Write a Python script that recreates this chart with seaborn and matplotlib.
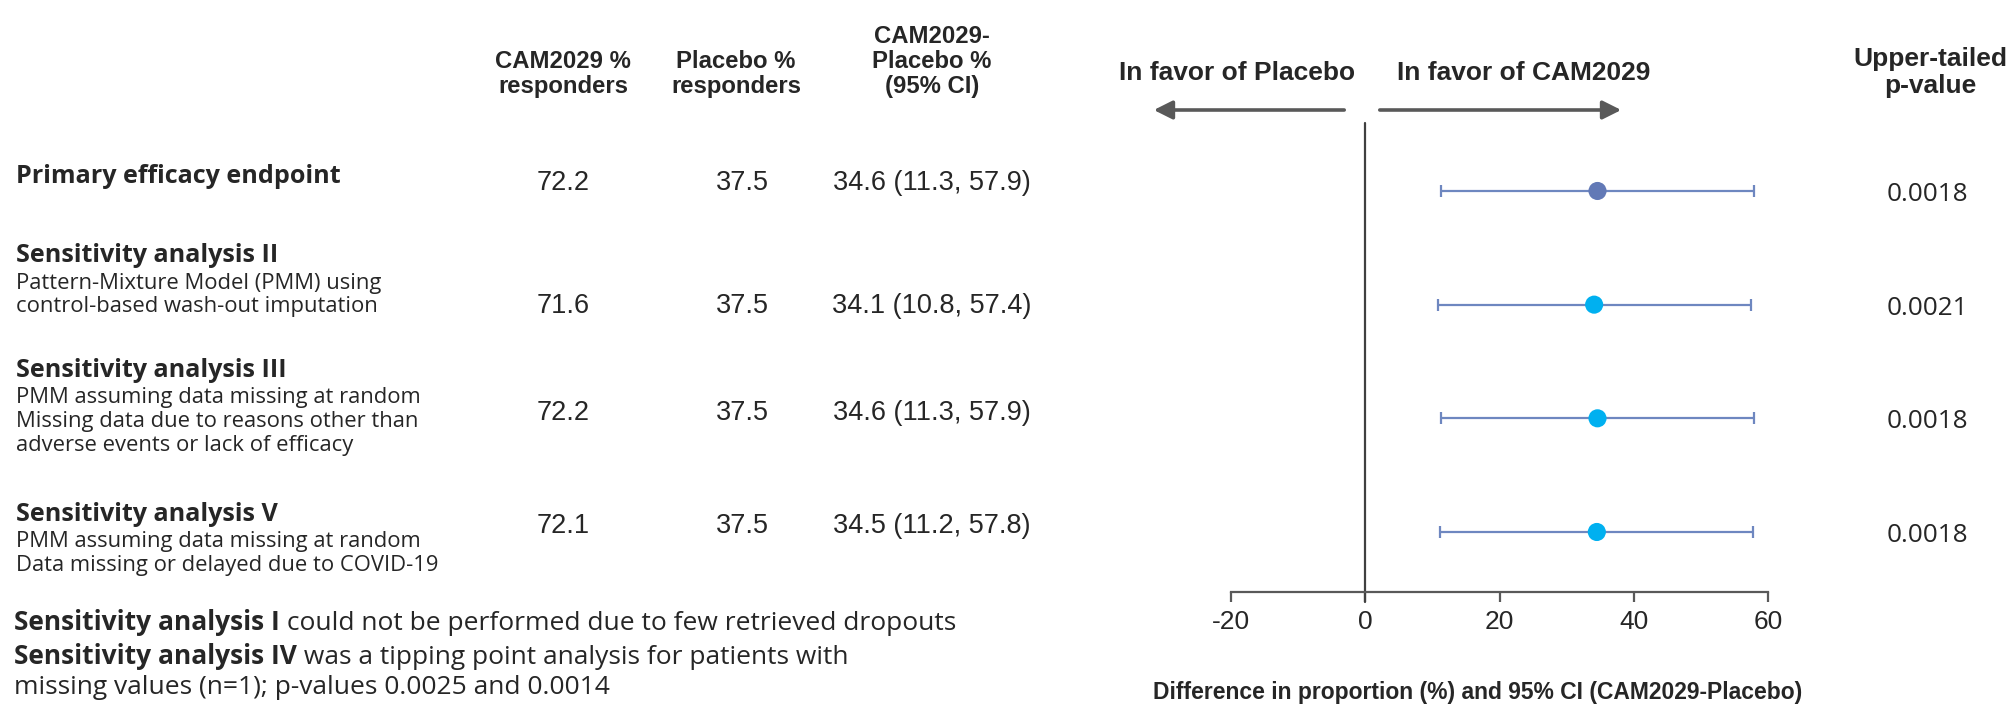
import matplotlib
matplotlib.use('Agg')
import matplotlib.pyplot as plt
import matplotlib.transforms as mtransforms
import pandas as pd
import seaborn as sns

# values
analyses = ["Primary efficacy endpoint", "Sensitivity analysis II",
            "Sensitivity analysis III", "Sensitivity analysis V"]
descriptions = [
    [],
    ["Pattern-Mixture Model (PMM) using", "control-based wash-out imputation"],
    ["PMM assuming data missing at random", "Missing data due to reasons other than",
     "adverse events or lack of efficacy"],
    ["PMM assuming data missing at random", "Data missing or delayed due to COVID-19"],
]
cam_pct = [72.2, 71.6, 72.2, 72.1]
pbo_pct = [37.5, 37.5, 37.5, 37.5]
diff = [34.6, 34.1, 34.6, 34.5]
ci_low = [11.3, 10.8, 11.3, 11.2]
ci_high = [57.9, 57.4, 57.9, 57.8]
p_values = ["0.0018", "0.0021", "0.0018", "0.0018"]
kind = ["primary", "sensitivity", "sensitivity", "sensitivity"]

col_headers = ["CAM2029 %\nresponders", "Placebo %\nresponders", "CAM2029-\nPlacebo %\n(95% CI)"]
p_header = "Upper-tailed\np-value"
favor_labels = ["In favor of Placebo", "In favor of CAM2029"]
x_ticks = [-20, 0, 20, 40, 60]
x_label = "Difference in proportion (%) and 95% CI (CAM2029-Placebo)"
footnotes = [("Sensitivity analysis I", " could not be performed due to few retrieved dropouts"),
             ("Sensitivity analysis IV", " was a tipping point analysis for patients with"),
             ("", "missing values (n=1); p-values 0.0025 and 0.0014")]

df = pd.DataFrame({"row": range(len(analyses)), "diff": diff, "low": ci_low,
                   "high": ci_high, "kind": kind})

# layout (pixels of the 2016x704 canvas)
W, H = 2016, 704
TEXT = "#262626"
GREY = "#595959"
HELV = ['Liberation Sans', 'DejaVu Sans']
FRUT = ['Open Sans', 'Noto Sans', 'DejaVu Sans']


def fx(px):
    return px / W


def fy(py):
    return 1 - py / H


sns.set_theme(style="white")
plt.rcParams['font.family'] = HELV
plt.rcParams['axes.unicode_minus'] = False

fig = plt.figure(figsize=(W / 100, H / 100), dpi=100)
ax = fig.add_axes([fx(1231), fy(592), (1768 - 1231) / W, (592 - 123) / H])

ax.errorbar(df["diff"], df["row"], xerr=[df["diff"] - df["low"], df["high"] - df["diff"]],
            fmt="none", ecolor="#6E87C0", elinewidth=1.6, capsize=4, capthick=1.6, zorder=2)
sns.scatterplot(data=df, x="diff", y="row", hue="kind",
                palette={"primary": "#6279B6", "sensitivity": "#00B0F0"},
                s=170, linewidth=0, legend=False, zorder=3, ax=ax)

ax.set_xlim(-20, 60)
ax.set_ylim(3.528, -0.598)
ax.axvline(0, ymin=-0.021, ymax=1, color="#404040", lw=1.6, clip_on=False, zorder=1)
ax.set_xticks(x_ticks)
ax.set_yticks([])
ax.set_ylabel("")
ax.tick_params(axis="x", bottom=True, length=7, width=1.6, color=GREY,
               labelsize=19, labelcolor=TEXT, pad=6)
sns.despine(ax=ax, left=True)
ax.spines["bottom"].set_color(GREY)
ax.spines["bottom"].set_linewidth(1.6)
ax.set_xlabel(x_label, fontsize=16.5, fontweight="bold", color=TEXT)
ax.xaxis.set_label_coords(0.46, -0.215)
ax.xaxis.label.set_va("center")

# direction arrows and labels above the forest plot
for label, cx in zip(favor_labels, [1237, 1524]):
    fig.text(fx(cx), fy(73), label, ha="center", va="center", fontsize=19,
             fontweight="bold", color=TEXT)
for tail, head in [(1347, 1151), (1377, 1624)]:
    ax.annotate("", xy=(fx(head), fy(110)), xytext=(fx(tail), fy(110)),
                xycoords="figure fraction", textcoords="figure fraction",
                arrowprops=dict(arrowstyle="-|>", color=GREY, lw=2.6, mutation_scale=28),
                annotation_clip=False)

# column headers, last lines share one baseline
for hdr, cx in zip(col_headers, [563, 736, 932]):
    fig.text(fx(cx), fy(93), hdr, ha="center", va="baseline", fontsize=17.2,
             fontweight="bold", color=TEXT, linespacing=1.12)
fig.text(fx(1930), fy(93), p_header, ha="center", va="baseline", fontsize=19,
         fontweight="bold", color=TEXT, linespacing=1.17)

# table rows tied to the forest plot rows
trans = mtransforms.blended_transform_factory(fig.transFigure, ax.transData)
title_shift = [-0.13, -0.43, -0.42, -0.155]
value_shift = [-0.07, 0.01, -0.05, -0.05]
for i, row in enumerate(df["row"]):
    ty = row + title_shift[i]
    ax.text(fx(16), ty, analyses[i], transform=trans, ha="left", va="center",
            fontsize=18.1, fontweight="bold", color=TEXT, family=FRUT)
    for j, line in enumerate(descriptions[i]):
        ax.text(fx(16), ty + 0.24 + j * 0.21, line, transform=trans, ha="left",
                va="center", fontsize=15.8, color=TEXT, family=FRUT)
    vy = row + value_shift[i]
    ax.text(fx(563), vy, f"{cam_pct[i]:.1f}", transform=trans, ha="center", va="center",
            fontsize=19.5, color=TEXT)
    ax.text(fx(742), vy, f"{pbo_pct[i]:.1f}", transform=trans, ha="center", va="center",
            fontsize=19.5, color=TEXT)
    ax.text(fx(932), vy, f"{diff[i]:.1f} ({ci_low[i]:.1f}, {ci_high[i]:.1f})", transform=trans,
            ha="center", va="center", fontsize=19.5, color=TEXT)
    ax.text(fx(1927), row + 0.03, p_values[i], transform=trans, ha="center", va="center",
            fontsize=18.8, color=TEXT, family=FRUT)

# footnotes, bold lead-in followed by regular text
for (bold, rest), py in zip(footnotes, [623, 656, 688]):
    if bold:
        lead = fig.text(fx(14), fy(py), bold, ha="left", va="center", fontsize=19,
                        fontweight="bold", color=TEXT, family=FRUT)
        ax.annotate(rest, xy=(1, 0), xycoords=lead, ha="left", va="bottom",
                    fontsize=19, color=TEXT, family=FRUT, annotation_clip=False)
    else:
        fig.text(fx(14), fy(py), rest, ha="left", va="center", fontsize=19,
                 color=TEXT, family=FRUT)

fig.savefig("out.png", dpi=100, facecolor="white")
